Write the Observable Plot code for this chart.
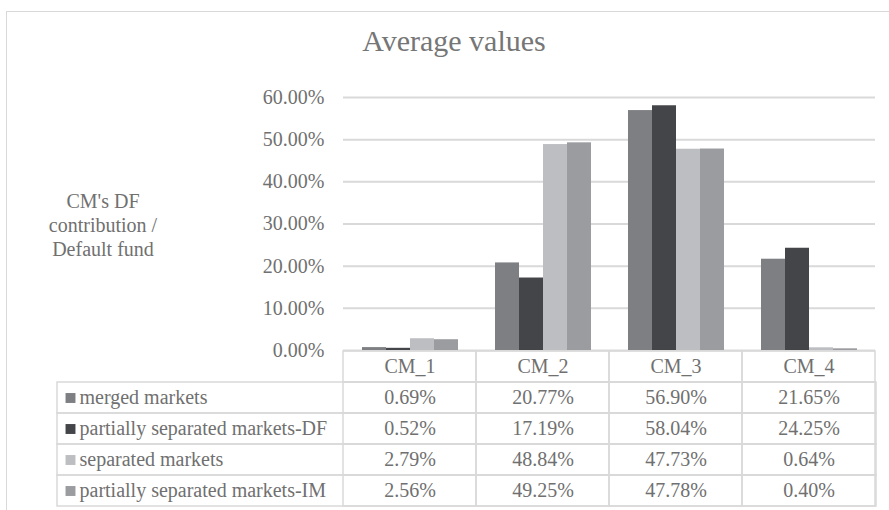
<!DOCTYPE html>
<html>
<head>
<meta charset="utf-8">
<script src="https://cdn.jsdelivr.net/npm/d3@7"></script>
<script src="https://cdn.jsdelivr.net/npm/@observablehq/plot@0.6"></script>
<style>
  html, body { margin: 0; padding: 0; background: #fff; }
  #wrap { position: relative; width: 889px; height: 510px; overflow: hidden; font-family: 'Liberation Serif', 'Times New Roman', Tinos, 'DejaVu Serif', serif; }
  #frame { position: absolute; left: 6px; top: 11px; width: 920px; height: 560px; border: 1.5px solid #d9d9d9; box-sizing: border-box; }
  #title { position: absolute; left: 0; top: 26px; width: 908px; text-align: center; font-size: 30px; line-height: 30px; color: #767676; }
  #ytitle { position: absolute; left: 3px; top: 189px; width: 200px; text-align: center; font-size: 20px; line-height: 24px; color: #707070; }
  .layer { position: absolute; left: 0; }
  svg text { font-family: 'Liberation Serif', 'Times New Roman', Tinos, 'DejaVu Serif', serif; }
</style>
</head>
<body>
<div id="wrap">
  <div id="frame"></div>
  <div id="title">Average values</div>
  <div id="ytitle">CM's DF<br>contribution /<br>Default fund</div>
  <div id="table" class="layer" style="top:348px"></div>
  <div id="bars" class="layer" style="top:0px"></div>
</div>
<script>
const categories = ["CM_1", "CM_2", "CM_3", "CM_4"];
const series = ["merged markets", "partially separated markets-DF", "separated markets", "partially separated markets-IM"];
const mergedMarkets = [0.0069, 0.2077, 0.5690, 0.2165];
const partiallySeparatedDF = [0.0052, 0.1719, 0.5804, 0.2425];
const separatedMarkets = [0.0279, 0.4884, 0.4773, 0.0064];
const partiallySeparatedIM = [0.0256, 0.4925, 0.4778, 0.0040];
const yTicks = [0, 0.1, 0.2, 0.3, 0.4, 0.5, 0.6];
const colors = ["#7e7f83", "#444548", "#bdbec2", "#9b9ca0"];

const valuesBySeries = [mergedMarkets, partiallySeparatedDF, separatedMarkets, partiallySeparatedIM];
const data = [];
series.forEach((s, i) => categories.forEach((c, j) => data.push({series: s, cat: c, value: valuesBySeries[i][j]})));

const pct = d3.format(".2%");
const grid = "#d9d9d9";
const textColor = "#707070";
const serif = "'Liberation Serif', 'Times New Roman', Tinos, 'DejaVu Serif', serif";
const baseStyle = {fontSize: "20px", fontFamily: serif, color: textColor, background: "transparent", overflow: "visible"};

const bars = Plot.plot({
  width: 889, height: 372,
  marginLeft: 341, marginRight: 13, marginTop: 97, marginBottom: 22,
  style: baseStyle,
  fx: {domain: categories, padding: 0, axis: null, label: null},
  x: {domain: series, paddingInner: 0, paddingOuter: 0.75, axis: null},
  y: {domain: [0, 0.6], ticks: yTicks, tickFormat: pct, tickSize: 0, tickPadding: 19, label: null},
  color: {domain: series, range: colors},
  marks: [
    Plot.ruleY(yTicks, {stroke: grid, strokeWidth: 2}),
    Plot.barY(data, {fx: "cat", x: "series", y: "value", fill: "series"})
  ]
});
document.getElementById("bars").appendChild(bars);

const rows = ["header", ...series];
const headerCells = categories.map(c => ({cat: c, row: "header"}));
const bodyCells = data.map(d => ({cat: d.cat, row: d.series}));

const table = Plot.plot({
  width: 889, height: 160,
  marginLeft: 57, marginRight: 13, marginTop: 2, marginBottom: 2,
  style: baseStyle,
  x: {domain: categories, range: [341, 876], padding: 0, axis: null},
  y: {domain: rows, padding: 0, axis: null},
  color: {domain: series, range: colors},
  marks: [
    Plot.cell(series, {y: d => d, fill: "none", stroke: grid, strokeWidth: 1.5, inset: 0}),
    Plot.cell([...headerCells, ...bodyCells], {x: "cat", y: "row", fill: "none", stroke: grid, strokeWidth: 1.5, inset: 0}),
    Plot.text(categories, {x: d => d, y: () => "header", text: d => d, fill: textColor}),
    Plot.text(data, {x: "cat", y: "series", text: d => pct(d.value), fill: textColor}),
    Plot.dot(series, {y: d => d, frameAnchor: "left", dx: 13, symbol: "square", r: 5.6, fill: d => d}),
    Plot.text(series, {y: d => d, frameAnchor: "left", dx: 22, textAnchor: "start", text: d => d, fill: textColor})
  ]
});
document.getElementById("table").appendChild(table);
</script>
</body>
</html>
